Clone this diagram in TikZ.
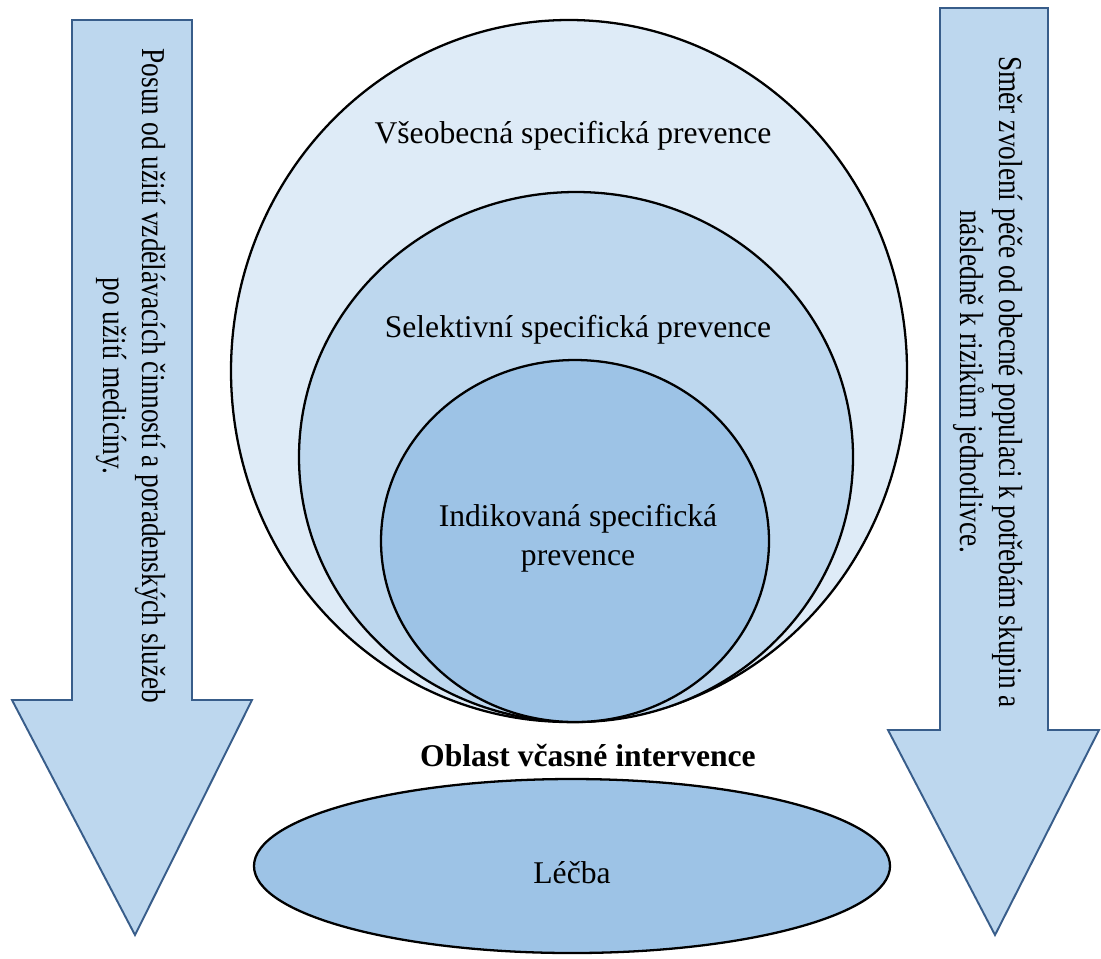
\documentclass[tikz,border=0pt]{standalone}
\usepackage{fontspec}
\setmainfont{Liberation Serif}
\usepackage{tikz}

\definecolor{kruhA}{HTML}{DEEBF7}
\definecolor{kruhB}{HTML}{BDD7EE}
\definecolor{kruhC}{HTML}{9DC3E6}
\definecolor{sipkaokraj}{HTML}{385D8A}

\tikzset{
  kruh/.style={draw=black, line width=1.3pt},
  sipka/.style={draw=sipkaokraj, fill=kruhB, line width=1.1pt, line join=miter},
  popis/.style={font=\fontsize{18}{22}\selectfont, align=center},
  svisly/.style={popis, rotate=-90, xscale=0.82, font=\fontsize{19}{22}\selectfont}
}

\begin{document}
\begin{tikzpicture}[x=0.02cm, y=-0.02cm]
\useasboundingbox (0,0) rectangle (1101,958);
\draw[sipka] (72,20) -- (192,20) -- (192,700) -- (252,700) -- (135,935) -- (12,700) -- (72,700) -- cycle;
\draw[sipka] (940,8) -- (1048,8) -- (1048,730) -- (1099,730) -- (995,935) -- (888,730) -- (940,730) -- cycle;
\draw[kruh, fill=kruhA] (569,371) ellipse [x radius=338, y radius=351];
\draw[kruh, fill=kruhB] (576,457) ellipse [x radius=277, y radius=265];
\draw[kruh, fill=kruhC] (575,541) ellipse [x radius=194, y radius=181];
\draw[kruh, fill=kruhC] (572,866) ellipse [x radius=318, y radius=87];
\node[popis] (vseob) at (573,136) {Všeobecná specifická prevence};
\node[popis] (selekt) at (578,330) {Selektivní specifická prevence};
\node[popis] (indik) at (578,538) {Indikovaná specifická\\prevence};
\node[popis, font=\fontsize{18}{22}\selectfont\bfseries] (oblast) at (588,755) {Oblast včasné intervence};
\node[popis] (lecba) at (572,873) {Léčba};
\node[svisly] (posun) at (131,376) {Posun od užití vzdělávacích činností a poradenských služeb\\po užití medicíny.};
\node[svisly] (smer) at (988,382) {Směr zvolení péče od obecné populaci k potřebám skupin a\\následně k rizikům jednotlivce.};
\end{tikzpicture}
\end{document}
